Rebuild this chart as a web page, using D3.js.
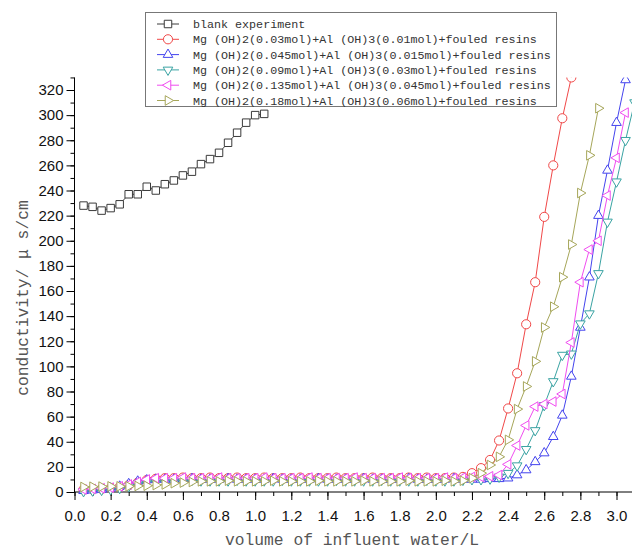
<!DOCTYPE html>
<html><head><meta charset="utf-8">
<script src="https://cdn.jsdelivr.net/npm/d3@7"></script>
<style>body{margin:0;background:#fff}svg{display:block}</style>
</head><body>
<script>
// ---------- data ----------
const xVals = [0.05,0.10,0.15,0.20,0.25,0.30,0.35,0.40,0.45,0.50,0.55,0.60,0.65,0.70,0.75,0.80,0.85,0.90,0.95,1.00,
  1.05,1.10,1.15,1.20,1.25,1.30,1.35,1.40,1.45,1.50,1.55,1.60,1.65,1.70,1.75,1.80,1.85,1.90,1.95,2.00,
  2.05,2.10,2.15,2.20,2.25,2.30,2.35,2.40,2.45,2.50,2.55,2.60,2.65,2.70,2.75,2.80,2.85,2.90,2.95,3.00,3.05,3.10];

const blankVals = [228,227,224,226,229,237,237,243,240,245,248,252,255,261,265,270,278,286,294,300,301];

const redVals = [2,2,2.5,3,4,5.5,7.5,9.5,10.5,11,
  11,11.5,11,11,11.5,11,11,11.5,11,11,
  11.5,11,11,11,11.5,11,11,11,11.5,11,
  11,11,11.5,11,11,11,11.5,11,11.5,11,
  11,11.5,12,
  15,19,25.5,41,66.5,94.5,133.5,167,219,260,297.5,330];

const blueVals = [1,1.5,2,3,4.5,6.5,8.5,9.5,10,10,
  10,10,10.5,10,10,10,10.5,10,10,10,
  10,10.5,10,10,10,10,10.5,10,10,10,
  10,10.5,10,10,10,10,10.5,10,10,10,
  10,10.5,10,
  10,10,10.5,10.5,11,13.5,17.5,24,31,44,61,92,131,171,220,256,294,328];

const tealVals = [0.5,1,1.5,2,3,4.5,6.5,8,8.5,9,
  9,9,9.5,9,9,9,9,9.5,9,9,
  9,9,9.5,9,9,9,9,9,9.5,9,
  9,9,9,9.5,9,9,9,9,9.5,9,
  9,9,9.5,
  10,10,10.5,12,15,21,34,49,69,88,109,110,134,142,174,215,247,280,310];

const magentaVals = [2,2.5,3,3.5,4.5,6,8,10,11,11,
  11,11.5,11,11,11,11.5,11,11,11,11,
  11.5,11,11,11,11,11.5,11,11,11,11,
  11.5,11,11,11,11,11.5,11,11,11,11,
  11.5,11,11.5,
  12,12,12.5,13.5,22,37,53,68,70,72,78,119,167,193,200,236,266,302];

const oliveVals = [4,4.2,4.3,4.5,4.5,4.5,4.8,5,5.5,6,
  7,7.5,8,8.5,8.5,8.5,9,8.5,8.5,8.5,
  8.5,9,8.5,8.5,8.5,8.5,9,8.5,8.5,8.5,
  8.5,9,8.5,8.5,8.5,8.5,9,8.5,8.5,8.5,
  9,8.5,9,
  11,15,21.5,28,41.5,66,84,104,131,147.5,171,197,238,268,305.5];

const seriesNames = [
  "blank experiment",
  "Mg (OH)2(0.03mol)+Al (OH)3(0.01mol)+fouled resins",
  "Mg (OH)2(0.045mol)+Al (OH)3(0.015mol)+fouled resins",
  "Mg (OH)2(0.09mol)+Al (OH)3(0.03mol)+fouled resins",
  "Mg (OH)2(0.135mol)+Al (OH)3(0.045mol)+fouled resins",
  "Mg (OH)2(0.18mol)+Al (OH)3(0.06mol)+fouled resins"
];
const seriesValues = [blankVals, redVals, blueVals, tealVals, magentaVals, oliveVals];

const xTickVals = [0,0.2,0.4,0.6,0.8,1.0,1.2,1.4,1.6,1.8,2.0,2.2,2.4,2.6,2.8,3.0];
const xTickLabels = ["0.0","0.2","0.4","0.6","0.8","1.0","1.2","1.4","1.6","1.8","2.0","2.2","2.4","2.6","2.8","3.0"];
const yTickVals = [0,20,40,60,80,100,120,140,160,180,200,220,240,260,280,300,320];
const yTickLabels = ["0","20","40","60","80","100","120","140","160","180","200","220","240","260","280","300","320"];

// ---------- styles ----------
const colors = ["#3a3a3a","#f04848","#4444ee","#3aa3a3","#f04cf0","#a6a65a"];
const shapes = [
  {type: d3.symbolSquare, size: 56, rot: 0},
  {type: d3.symbolCircle, size: 66, rot: 0},
  {type: d3.symbolTriangle, size: 40, rot: 0},
  {type: d3.symbolTriangle, size: 40, rot: 180},
  {type: d3.symbolTriangle, size: 40, rot: -90},
  {type: d3.symbolTriangle, size: 40, rot: 90}
];

const W = 632, H = 550;
const svg = d3.select("body").append("svg").attr("width", W).attr("height", H);

const x = d3.scaleLinear().domain([0, 3]).range([74.5, 616.5]);
const y = d3.scaleLinear().domain([0, 320]).range([492, 90]);
const yTop = y(330);

// clip
svg.append("defs").append("clipPath").attr("id","plotclip")
  .append("rect").attr("x", x(0)).attr("y", yTop).attr("width", W).attr("height", 520 - yTop);

// ---------- axes ----------
const tickFont = "'Liberation Sans', Arial, sans-serif";

// x axis minor
svg.append("g").attr("transform", `translate(0,${y(0)})`)
  .call(d3.axisBottom(x).tickValues(d3.range(0, 3.15, 0.1)).tickSize(4).tickFormat(""))
  .call(g => g.select(".domain").remove())
  .call(g => g.selectAll("line").attr("stroke","#000"));
// x axis major
svg.append("g").attr("transform", `translate(0,${y(0)})`)
  .call(d3.axisBottom(x).tickValues(xTickVals).tickSize(8).tickPadding(10)
        .tickFormat((d,i) => xTickLabels[i]))
  .call(g => g.select(".domain").remove())
  .call(g => g.selectAll("line").attr("stroke","#000"))
  .call(g => g.selectAll("text").attr("font-family", tickFont).attr("font-size", 15).attr("fill","#111"));
svg.append("line").attr("x1", x(0)).attr("x2", W).attr("y1", y(0)).attr("y2", y(0)).attr("stroke","#000");

// y axis minor
svg.append("g").attr("transform", `translate(${x(0)},0)`)
  .call(d3.axisLeft(y).tickValues(d3.range(0, 331, 10)).tickSize(4).tickFormat(""))
  .call(g => g.select(".domain").remove())
  .call(g => g.selectAll("line").attr("stroke","#000"));
// y axis major
svg.append("g").attr("transform", `translate(${x(0)},0)`)
  .call(d3.axisLeft(y).tickValues(yTickVals).tickSize(8).tickPadding(3)
        .tickFormat((d,i) => yTickLabels[i]))
  .call(g => g.select(".domain").remove())
  .call(g => g.selectAll("line").attr("stroke","#000"))
  .call(g => g.selectAll("text").attr("font-family", tickFont).attr("font-size", 15).attr("fill","#111"));
svg.append("line").attr("x1", x(0)).attr("x2", x(0)).attr("y1", yTop).attr("y2", y(0)).attr("stroke","#000");

// axis titles
const titleFont = "'Liberation Mono', 'DejaVu Sans Mono', monospace";
svg.append("text").attr("x", 352).attr("y", 545).attr("text-anchor","middle")
  .attr("font-family", titleFont).attr("font-size", 16.3).attr("fill","#555")
  .text("volume of influent water/L");
svg.append("text").attr("transform", "translate(28,298) rotate(-90)").attr("text-anchor","middle")
  .attr("font-family", titleFont).attr("font-size", 16.3).attr("fill","#555")
  .text("conductivity/ μ s/cm");

// ---------- series ----------
const plot = svg.append("g").attr("clip-path","url(#plotclip)");
const line = d3.line().x(d => x(d[0])).y(d => y(d[1]));

seriesValues.forEach((vals, si) => {
  const pts = vals.map((v, i) => [xVals[i], v]);
  const g = plot.append("g");
  g.append("path").attr("d", line(pts)).attr("fill","none")
    .attr("stroke", colors[si]).attr("stroke-width", 1);
  const sym = d3.symbol().type(shapes[si].type).size(shapes[si].size);
  g.selectAll("path.m").data(pts).join("path").attr("class","m")
    .attr("d", sym())
    .attr("transform", d => `translate(${x(d[0])},${y(d[1])}) rotate(${shapes[si].rot})`)
    .attr("fill","#fff").attr("stroke", colors[si]).attr("stroke-width", 1);
});

// ---------- legend ----------
const leg = svg.append("g");
leg.append("rect").attr("x", 145.5).attr("y", 12.5).attr("width", 411).attr("height", 94)
  .attr("fill","#fff").attr("stroke","#777").attr("stroke-width", 1);
seriesNames.forEach((name, si) => {
  const cy = 24 + si * 15.3;
  leg.append("line").attr("x1", 157).attr("x2", 179).attr("y1", cy).attr("y2", cy)
    .attr("stroke", colors[si]).attr("stroke-width", 1);
  leg.append("path").attr("d", d3.symbol().type(shapes[si].type).size(shapes[si].size)())
    .attr("transform", `translate(168,${cy}) rotate(${shapes[si].rot})`)
    .attr("fill","#fff").attr("stroke", colors[si]).attr("stroke-width", 1);
  leg.append("text").attr("x", 193).attr("y", cy).attr("dy","0.35em")
    .attr("font-family", titleFont).attr("font-size", 11.7).attr("fill","#333")
    .text(name);
});
</script>
</body></html>
